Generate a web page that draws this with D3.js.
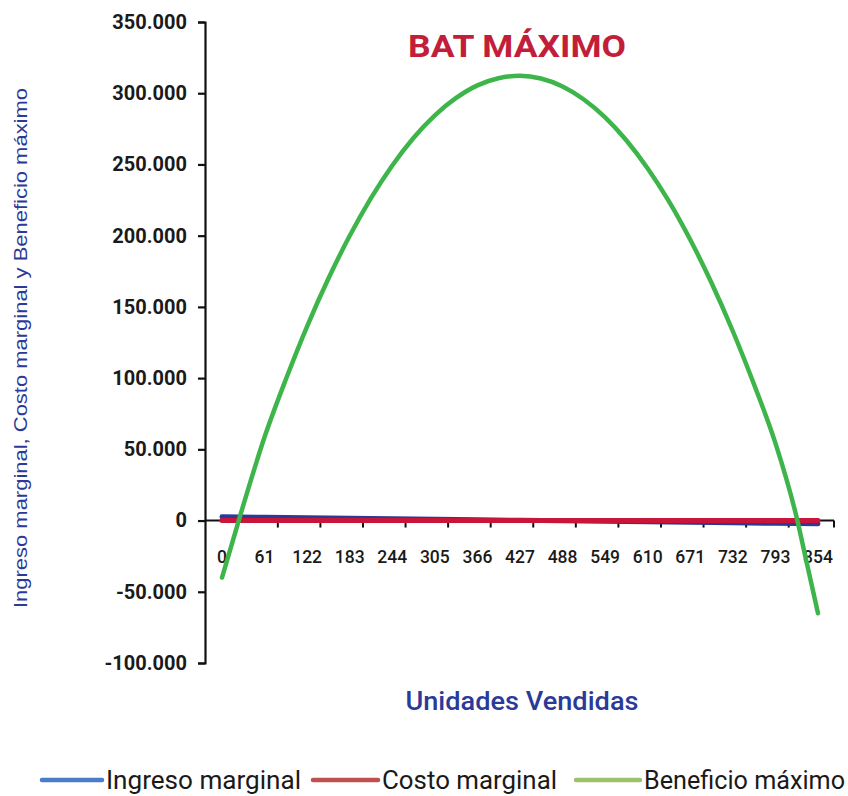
<!DOCTYPE html>
<html>
<head>
<meta charset="utf-8">
<script src="https://cdn.jsdelivr.net/npm/d3@7"></script>
<style>
  body { margin: 0; background: #fff; }
  text { font-family: Roboto, "Liberation Sans", sans-serif; }
</style>
</head>
<body>
<div id="chart"></div>
<script>
// valori (unidades vendidas -> beneficio)
var unidades = [0, 30, 61, 91, 122, 152, 183, 213, 244, 274, 305, 335, 366, 396, 427,
  457, 488, 518, 549, 579, 610, 640, 671, 701, 732, 762, 793, 823, 838, 854];
var beneficio = [-40000, 10000, 58600, 98500, 136400, 169400, 199900, 226000, 249300, 268400,
  284500, 296500, 305500, 310500, 312200, 310300, 304700, 295800, 283100, 267200,
  247200, 224400, 197100, 167300, 132900, 96000, 54400, 3000, -30000, -65000];

var etichette = [0, 61, 122, 183, 244, 305, 366, 427, 488, 549, 610, 671, 732, 793, 854];
var ingresoMarginal = [2600, 2250, 1900, 1550, 1200, 850, 500, 150, -200, -550, -900, -1250, -1600, -1950, -2300];
var costoMarginal = [100, 100, 100, 100, 100, 100, 100, 100, 100, 100, 100, 100, 100, 100, 100];

var yTicks = [-100000, -50000, 0, 50000, 100000, 150000, 200000, 250000, 300000, 350000];

var serie = [
  { nome: "Ingreso marginal", colore: "#2B3A98", legenda: "#4A7CC7" },
  { nome: "Costo marginal", colore: "#C8163A", legenda: "#C0504D" },
  { nome: "Beneficio máximo", colore: "#3DB54A", legenda: "#9BC26A" }
];

var width = 848, height = 796;

var svg = d3.select("#chart").append("svg")
  .attr("width", width)
  .attr("height", height);

var x = d3.scaleLinear().domain([0, 854]).range([222, 818]);
var y = d3.scaleLinear().domain([-100000, 350000]).range([663, 22]);

var loc = d3.formatLocale({ decimal: ",", thousands: ".", grouping: [3], currency: ["", ""], minus: "-" });
var fmt = loc.format(",d");

// asse y
var gy = svg.append("g").attr("transform", "translate(205,0)")
  .call(d3.axisLeft(y).tickValues(yTicks).tickFormat(fmt).tickSize(7).tickPadding(11));
gy.select(".domain").attr("stroke", "#111").attr("stroke-width", 2.2);
gy.selectAll(".tick line").attr("stroke", "#111").attr("stroke-width", 2.2);
gy.selectAll(".tick text")
  .attr("fill", "#1a1a1a")
  .style("font-size", "20px")
  .style("font-weight", "700")
  .style("font-family", "Roboto, sans-serif");

// asse x (zero)
var x0 = y(0);
var xAxisEnd = 834;
svg.append("line")
  .attr("x1", 205).attr("x2", xAxisEnd)
  .attr("y1", x0).attr("y2", x0)
  .attr("stroke", "#111").attr("stroke-width", 2);

var tickPos = etichette.map(function(d) { return x(d + 80); }).filter(function(p) { return p < xAxisEnd - 10; });
tickPos.push(xAxisEnd);
svg.selectAll("line.xtick").data(tickPos).enter().append("line")
  .attr("class", "xtick")
  .attr("x1", function(d) { return d; }).attr("x2", function(d) { return d; })
  .attr("y1", x0).attr("y2", x0 + 7)
  .attr("stroke", "#111").attr("stroke-width", 2);

svg.selectAll("text.xlab").data(etichette).enter().append("text")
  .attr("class", "xlab")
  .attr("x", function(d) { return x(d); })
  .attr("y", 563)
  .attr("text-anchor", "middle")
  .attr("fill", "#1a1a1a")
  .style("font-size", "17.5px")
  .style("font-weight", "500")
  .text(function(d) { return d; });

// linee
var lineaDritta = d3.line()
  .x(function(d) { return x(d[0]); })
  .y(function(d) { return y(d[1]); });

var lineaCurva = d3.line()
  .x(function(d) { return x(d[0]); })
  .y(function(d) { return y(d[1]); })
  .curve(d3.curveMonotoneX);

svg.append("path")
  .datum(etichette.map(function(d, i) { return [d, ingresoMarginal[i]]; }))
  .attr("d", lineaDritta)
  .attr("fill", "none")
  .attr("stroke", serie[0].colore)
  .attr("stroke-width", 5)
  .attr("stroke-linecap", "round");

svg.append("path")
  .datum(etichette.map(function(d, i) { return [d, costoMarginal[i]]; }))
  .attr("d", lineaDritta)
  .attr("fill", "none")
  .attr("stroke", serie[1].colore)
  .attr("stroke-width", 5)
  .attr("stroke-linecap", "round");

svg.append("path")
  .datum(unidades.map(function(d, i) { return [d, beneficio[i]]; }))
  .attr("d", lineaCurva)
  .attr("fill", "none")
  .attr("stroke", serie[2].colore)
  .attr("stroke-width", 4.5)
  .attr("stroke-linecap", "round");

// titolo
svg.append("text")
  .attr("x", 517).attr("y", 57)
  .attr("text-anchor", "middle")
  .attr("fill", "#C21E3A")
  .style("font-size", "32px")
  .style("font-weight", "700")
  .attr("textLength", 218)
  .attr("lengthAdjust", "spacingAndGlyphs")
  .text("BAT MÁXIMO");

// titoli assi
svg.append("text")
  .attr("transform", "translate(27,348) rotate(-90)")
  .attr("text-anchor", "middle")
  .attr("fill", "#2B3A98")
  .style("font-family", "'Liberation Sans', Arial, sans-serif")
  .style("font-size", "19px")
  .attr("textLength", 520)
  .attr("lengthAdjust", "spacingAndGlyphs")
  .text("Ingreso marginal, Costo marginal y Beneficio máximo");

svg.append("text")
  .attr("x", 522).attr("y", 710)
  .attr("text-anchor", "middle")
  .attr("fill", "#2B3A98")
  .style("font-size", "25px")
  .style("font-weight", "500")
  .attr("textLength", 233)
  .attr("lengthAdjust", "spacingAndGlyphs")
  .text("Unidades Vendidas");

// legenda
var legX = [42, 313, 576];
var legLen = [60, 65, 64];
var legW = [195, 175, 201];
var leg = svg.selectAll("g.leg").data(serie).enter().append("g")
  .attr("class", "leg")
  .attr("transform", function(d, i) { return "translate(" + legX[i] + ",780)"; });
leg.append("line")
  .attr("x1", 0).attr("x2", function(d, i) { return legLen[i]; })
  .attr("stroke", function(d) { return d.legenda; })
  .attr("stroke-width", 4.5)
  .attr("stroke-linecap", "round");
leg.append("text")
  .attr("x", function(d, i) { return legLen[i] + 4; }).attr("y", 9)
  .attr("fill", "#1a1a1a")
  .style("font-size", "25px")
  .attr("textLength", function(d, i) { return legW[i]; })
  .attr("lengthAdjust", "spacingAndGlyphs")
  .text(function(d) { return d.nome; });
</script>
</body>
</html>
